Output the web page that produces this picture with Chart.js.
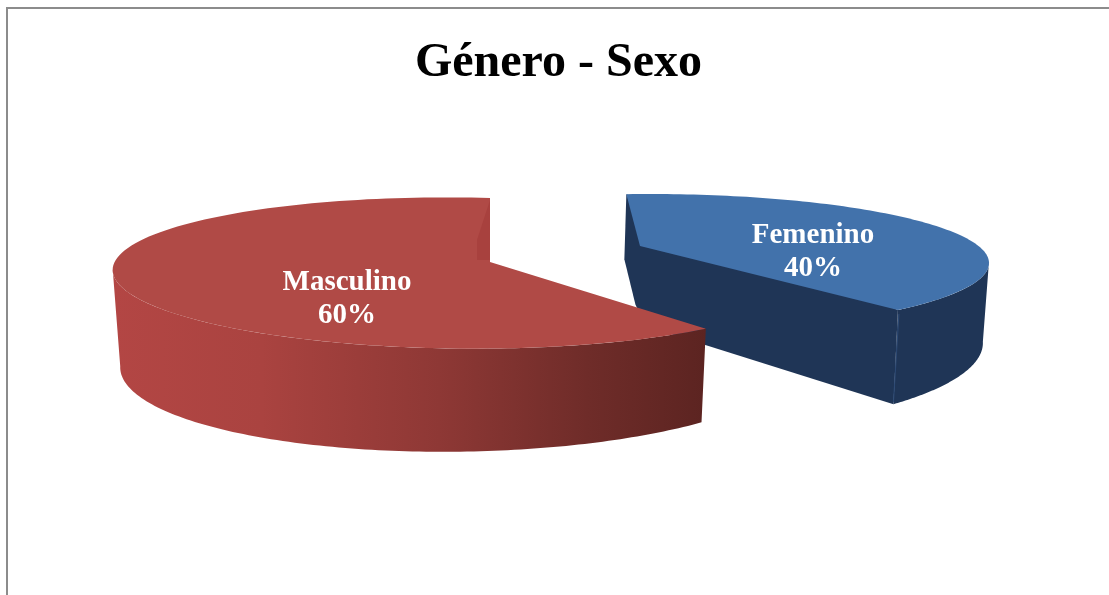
<!DOCTYPE html>
<html><head><meta charset="utf-8">
<script src="https://cdn.jsdelivr.net/npm/chart.js@4"></script>
<style>html,body{margin:0;padding:0;background:#fff;overflow:hidden}canvas{display:block}</style>
</head><body><canvas id="c" width="1109" height="595"></canvas>
<script>
const categories = ['Femenino', 'Masculino'];
const values = [40, 60];
const chartTitle = 'Género - Sexo';

const DEG = Math.PI / 180;
// 3D look per slice: apex, rim ellipse/perspective, wall depth, visible part of the outer wall (degrees)
const looks = [
  {ax:640, ay:246, cx:650, cy:263, a:339, d:0, e:69, k:0, g:0, phi0:-4, phiS:137/144,
   h:80, zx:.982, zy:1.3, wallFrom:98, wallTo:144,
   top:'#4272ab', wall:[[0,'#1f3556'],[1,'#1f3556']], label:[173,3]},
  {ax:490, ay:262, cx:490, cy:262, a:341, d:4, e:73.6, k:.15, g:.085, phi0:0, phiS:1,
   h:87, zx:.98, zy:1, wallFrom:144, wallTo:262,
   top:'#b04a46', wall:[[0,'#b34644'],[.25,'#aa4340'],[.55,'#8e3835'],[.8,'#6f2c29'],[1,'#5c2421']], label:[-143,34]}
];

function proj(L, th, z) {
  const phi = (L.phi0 * DEG) + th * L.phiS;
  const u = Math.sin(phi), v = -Math.cos(phi);
  const w = 1 - L.k * v + L.g * u;
  return [L.cx + (z ? L.zx : 1) * L.a * u / w,
          L.cy + (L.d * u + (z ? L.zy : 1) * L.e * v) / w + (z ? L.h / w : 0)];
}
function trace(ctx, L, t0, t1, z, first) {
  const n = 120;
  for (let i = 0; i <= n; i++) {
    const p = proj(L, t0 + (t1 - t0) * i / n, z);
    if (i === 0 && first) ctx.moveTo(p[0], p[1]); else ctx.lineTo(p[0], p[1]);
  }
}
function drawSlice(ctx, arc, L) {
  const t0 = arc.startAngle + Math.PI / 2, t1 = arc.endAngle + Math.PI / 2;
  const isFem = L === looks[0];
  const grad = ctx.createLinearGradient(113, 0, 706, 0);
  L.wall.forEach(s => grad.addColorStop(s[0], s[1]));
  ctx.fillStyle = grad;
  // outer wall, front-facing part only
  ctx.beginPath();
  trace(ctx, L, L.wallFrom * DEG, L.wallTo * DEG, false, true);
  trace(ctx, L, L.wallTo * DEG, L.wallFrom * DEG, true, false);
  ctx.closePath();
  ctx.fill();
  if (isFem) {
    // radial faces showing under the top surface
    const r0 = proj(L, t0, false), r1 = proj(L, t1, false), r1b = proj(L, t1, true);
    ctx.beginPath();
    ctx.moveTo(r0[0], r0[1]);
    ctx.lineTo(r0[0] - 2, r0[1] + 65);
    ctx.lineTo(r0[0] + 9, r0[1] + 110);
    ctx.lineTo(L.ax + 5, L.ay + L.h);
    ctx.lineTo(r1b[0], r1b[1]);
    ctx.lineTo(r1[0], r1[1]);
    ctx.closePath();
    ctx.fill();
    ctx.strokeStyle = '#2d4a75';
    ctx.lineWidth = 1;
    ctx.beginPath();
    ctx.moveTo(r1[0] + 1, r1[1] + 4);
    ctx.lineTo(r1b[0], r1b[1] - 2);
    ctx.stroke();
  }
  // top surface
  ctx.fillStyle = L.top;
  ctx.beginPath();
  ctx.moveTo(L.ax, L.ay);
  trace(ctx, L, t0, t1, false, false);
  ctx.closePath();
  ctx.fill();
  if (!isFem) {
    // inner face sliver near the back edge
    const e = proj(L, t1, false);
    ctx.fillStyle = '#a8413e';
    ctx.beginPath();
    ctx.moveTo(e[0], e[1] + 2);
    ctx.lineTo(e[0] - 13, e[1] + 42);
    ctx.lineTo(e[0] - 13, L.ay - 2);
    ctx.lineTo(L.ax, L.ay - 2);
    ctx.closePath();
    ctx.fill();
  }
}

const pie3d = {
  id: 'pie3d',
  beforeDraw(chart) {
    const c = chart.ctx;
    c.save();
    c.fillStyle = '#fff';
    c.fillRect(0, 0, chart.width, chart.height);
    c.strokeStyle = '#8c8c8c';
    c.lineWidth = 2;
    c.beginPath();
    c.moveTo(7, chart.height);
    c.lineTo(7, 8);
    c.lineTo(chart.width, 8);
    c.stroke();
    c.restore();
  },
  beforeDatasetDraw(chart, args) {
    const c = chart.ctx, arcs = args.meta.data;
    c.save();
    arcs.forEach((arc, i) => drawSlice(c, arc, looks[i]));
    const total = values.reduce((s, x) => s + x, 0);
    c.fillStyle = '#fff';
    c.font = 'bold 29px "Liberation Serif"';
    c.textAlign = 'center';
    c.textBaseline = 'alphabetic';
    arcs.forEach((arc, i) => {
      const L = looks[i], x = L.ax + L.label[0], y = L.ay + L.label[1];
      c.fillText(categories[i], x, y - 6);
      c.fillText(Math.round(values[i] / total * 100) + '%', x, y + 27);
    });
    c.restore();
    return false;
  }
};

new Chart(document.getElementById('c'), {
  type: 'pie',
  data: { labels: categories, datasets: [{ data: values, backgroundColor: looks.map(l => l.top), borderWidth: 0 }] },
  options: {
    responsive: false,
    animation: false,
    layout: { padding: { left: 8, top: 0 } },
    plugins: {
      legend: { display: false },
      tooltip: { enabled: false },
      title: { display: true, text: chartTitle, color: '#000', padding: { top: 35, bottom: 10 },
               font: { family: '"Liberation Serif"', size: 48, weight: 'bold' } }
    }
  },
  plugins: [pie3d]
});
</script></body></html>
